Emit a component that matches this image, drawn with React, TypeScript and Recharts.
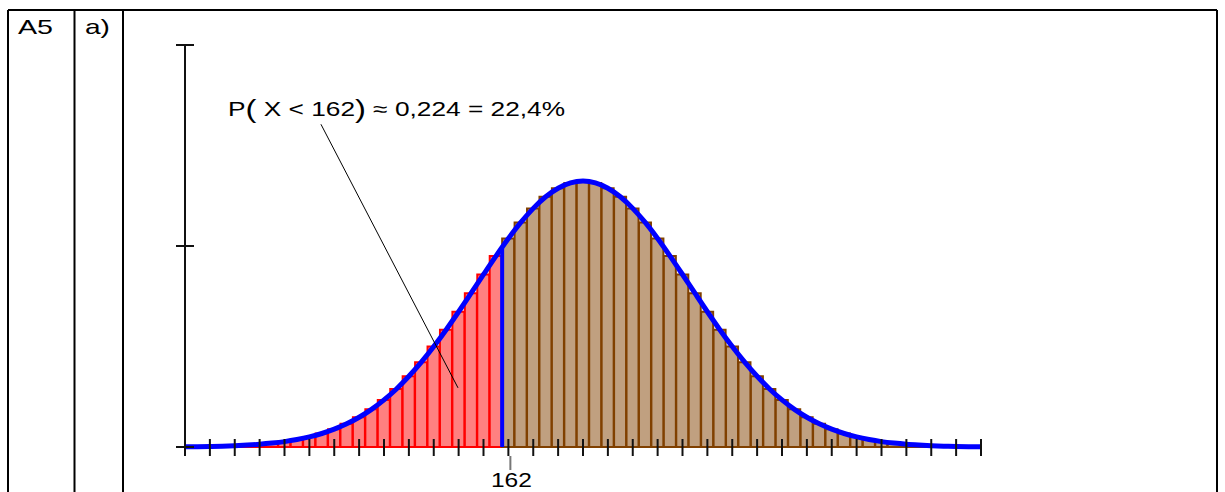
import { Bar, Cell, ComposedChart, Line, ReferenceDot, ReferenceLine, XAxis, YAxis } from "recharts";

// body heights (cm) and probability of each value
const heights = [
  136, 137, 138, 139, 140, 141, 142, 143, 144, 145, 146, 147, 148, 149, 150, 151, 152,
  153, 154, 155, 156, 157, 158, 159, 160, 161, 162, 163, 164, 165, 166, 167, 168,
  169, 170, 171, 172, 173, 174, 175, 176, 177, 178, 179, 180, 181, 182, 183, 184,
  185, 186, 187, 188, 189, 190, 191, 192, 193, 194, 195, 196, 197, 198, 199, 200,
];
const probs = [
  0.00004, 0.00006, 0.0001, 0.00015, 0.00023, 0.00034, 0.00048, 0.00068, 0.00094, 0.0013,
  0.00176, 0.00235, 0.0031, 0.00403, 0.00518, 0.00656, 0.0082, 0.01011, 0.01231, 0.01477,
  0.01749, 0.02043, 0.02355, 0.02678, 0.03004, 0.03324, 0.0363, 0.0391, 0.04155, 0.04357,
  0.04506, 0.04599, 0.0463, 0.04599, 0.04506, 0.04357, 0.04155, 0.0391, 0.0363, 0.03324,
  0.03004, 0.02678, 0.02355, 0.02043, 0.01749, 0.01477, 0.01231, 0.01011, 0.0082, 0.00656,
  0.00518, 0.00403, 0.0031, 0.00235, 0.00176, 0.0013, 0.00094, 0.00068, 0.00048, 0.00034,
  0.00023, 0.00015, 0.0001, 0.00006, 0.00004,
];
const xTicks = [
  136, 138, 140, 142, 144, 146, 148, 150, 152, 154, 156, 158, 160, 162, 164, 166, 168,
  170, 172, 174, 176, 178, 180, 182, 184, 186, 188, 190, 192, 194, 196, 198, 200,
];
const yTicks = [0, 0.035, 0.07];
const xDomain = [136, 200];
const limit = 162;
const boundary = 161.5;
const boundaryP = 0.0346;
const labelText = "P(X < 162) ≈ 0,224 = 22,4%";
const labelAt = { x: 139.46, y: 0.0576 };
const pointerFrom = { x: 146.93, y: 0.0562 };
const pointerTo = { x: 157.95, y: 0.0103 };

const data = heights.map((x, i) => ({
  x,
  p: probs[i],
  bar: x > xDomain[0] && x < xDomain[1] ? probs[i] : null,
}));

const FONT = "'Liberation Sans', Arial, sans-serif";

function XTick(props: any) {
  const { x, y, payload } = props;
  return (
    <g>
      <line x1={x} y1={y - 8} x2={x} y2={y + 9} stroke="#111" strokeWidth={2} />
      {payload.value === limit && (
        <>
          <line x1={x + 2} y1={y + 9} x2={x + 2} y2={y + 23} stroke="#777" strokeWidth={2} />
          <text
            x={x + 3}
            y={y + 40}
            textAnchor="middle"
            fontFamily={FONT}
            fontSize={21}
            textLength={41}
            lengthAdjust="spacingAndGlyphs"
            fill="#000"
          >
            {limit}
          </text>
        </>
      )}
    </g>
  );
}

function YTick(props: any) {
  const { x, y } = props;
  return <line x1={x - 9} y1={y} x2={x + 9} y2={y} stroke="#111" strokeWidth={2} />;
}

function ProbLabel(props: any) {
  const { viewBox } = props;
  return (
    <text
      x={viewBox.x}
      y={viewBox.y}
      fontFamily={FONT}
      fontSize={20}
      fill="#000"
      textLength={337}
      lengthAdjust="spacingAndGlyphs"
    >
      <tspan>P</tspan>
      <tspan fontSize={25} dy={2}>(</tspan>
      <tspan dy={-2}> X &lt; 162</tspan>
      <tspan fontSize={25} dy={2}>)</tspan>
      <tspan dy={-2}> ≈ 0,224 = 22,4%</tspan>
    </text>
  );
}

function Frame() {
  return (
    <svg width={1225} height={492} style={{ position: "absolute", left: 0, top: 0 }}>
      <g stroke="#000" strokeWidth={2}>
        <line x1={8} y1={10} x2={1217} y2={10} />
        <line x1={8} y1={10} x2={8} y2={492} />
        <line x1={74.5} y1={10} x2={74.5} y2={492} />
        <line x1={123} y1={10} x2={123} y2={492} />
        <line x1={1217} y1={10} x2={1217} y2={492} />
      </g>
      <text x={18} y={34} fontFamily={FONT} fontSize={21} textLength={35} lengthAdjust="spacingAndGlyphs">
        A5
      </text>
      <text x={85} y={34} fontFamily={FONT} fontSize={21} textLength={25} lengthAdjust="spacingAndGlyphs">
        a)
      </text>
    </svg>
  );
}

export default function App() {
  return (
    <div style={{ position: "absolute", left: 0, top: 0, width: 1225, height: 492, background: "#fff", overflow: "hidden" }}>
      <Frame />
      <div style={{ position: "absolute", left: 0, top: 0 }}>
        <ComposedChart
          width={1225}
          height={492}
          data={data}
          margin={{ top: 45, right: 244, bottom: 44, left: 184 }}
          barCategoryGap={0}
          barGap={0}
        >
          <XAxis
            dataKey="x"
            type="number"
            domain={xDomain}
            ticks={xTicks}
            height={1}
            tickSize={0}
            tickMargin={0}
            axisLine={false}
            tickLine={false}
            tick={XTick}
            interval={0}
          />
          <YAxis
            type="number"
            domain={[0, 0.07]}
            ticks={yTicks}
            width={1}
            tickSize={0}
            tickMargin={0}
            axisLine={{ stroke: "#111", strokeWidth: 2 }}
            tickLine={false}
            tick={YTick}
          />
          <Bar dataKey="bar" isAnimationActive={false} strokeWidth={2}>
            {data.map((d) => (
              <Cell
                key={d.x}
                fill={d.x < limit ? "#ff8080" : "#c0a080"}
                stroke={d.x < limit ? "#ff0000" : "#804000"}
              />
            ))}
          </Bar>
          <Line
            dataKey="p"
            type="monotone"
            stroke="#0000ff"
            strokeWidth={5}
            dot={false}
            isAnimationActive={false}
          />
          <ReferenceLine
            segment={[{ x: boundary, y: 0 }, { x: boundary, y: boundaryP }]}
            stroke="#0000ff"
            strokeWidth={4}
          />
          <ReferenceLine
            segment={[pointerFrom, pointerTo]}
            stroke="#000"
            strokeWidth={1}
          />
          <ReferenceDot
            x={labelAt.x}
            y={labelAt.y}
            r={0}
            fill="none"
            stroke="none"
            label={{ content: ProbLabel, value: labelText }}
          />
        </ComposedChart>
      </div>
    </div>
  );
}
